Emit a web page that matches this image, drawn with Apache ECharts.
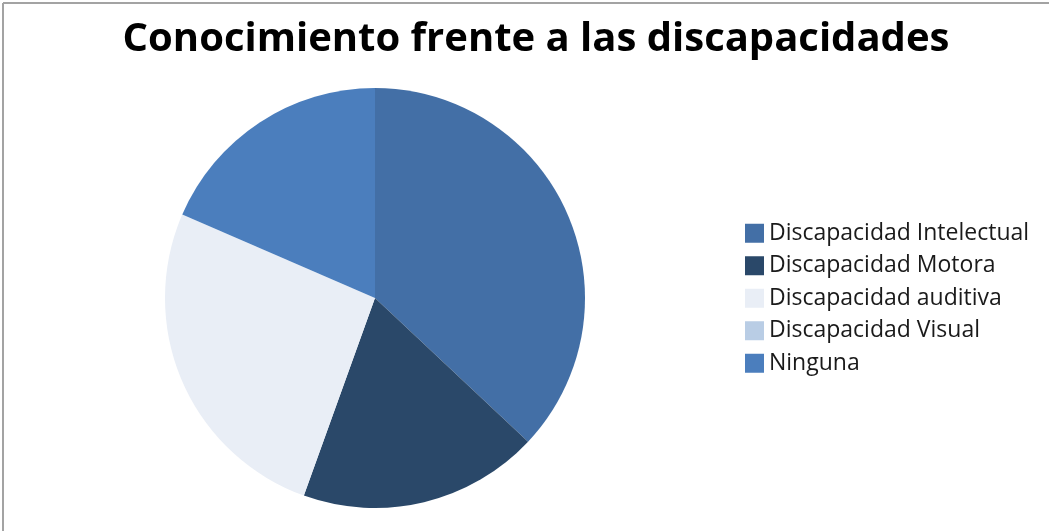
<!DOCTYPE html>
<html>
<head>
<meta charset="utf-8">
<script src="https://cdn.jsdelivr.net/npm/echarts@6/dist/echarts.min.js"></script>
<style>
  html, body { margin: 0; padding: 0; background: #ffffff; }
  #chart { width: 1049px; height: 531px; }
</style>
</head>
<body>
<div id="chart"></div>
<script>
// Share of respondents by type of disability they know about (%)
const categories = [
  'Discapacidad Intelectual',
  'Discapacidad Motora',
  'Discapacidad auditiva',
  'Discapacidad Visual',
  'Ninguna'
];
const shares = [37, 18.5, 26, 0, 18.5];
const sliceColors = ['#436fa6', '#2a4869', '#e9eef6', '#b9cde5', '#4b7ebd'];
const titleText = 'Conocimiento frente a las discapacidades';

const chart = echarts.init(document.getElementById('chart'), null, { renderer: 'canvas' });

chart.setOption({
  backgroundColor: '#ffffff',
  animation: false,
  color: sliceColors,
  title: {
    text: titleText,
    left: 531,
    textAlign: 'center',
    top: 15,
    textStyle: {
      fontFamily: 'Open Sans',
      fontWeight: 'bold',
      fontSize: 40,
      color: '#000000'
    }
  },
  legend: {
    orient: 'vertical',
    left: 740,
    top: 212,
    icon: 'rect',
    itemWidth: 19,
    itemHeight: 19,
    itemGap: 0,
    selectedMode: false,
    data: categories,
    textStyle: {
      fontFamily: 'Open Sans',
      fontSize: 23,
      lineHeight: 32.5,
      color: '#1a1a1a'
    }
  },
  graphic: [
    { type: 'line', shape: { x1: 3, y1: 3, x2: 1049, y2: 3 }, style: { stroke: '#a3a3a3', lineWidth: 2 } },
    { type: 'line', shape: { x1: 3, y1: 3, x2: 3, y2: 531 }, style: { stroke: '#a3a3a3', lineWidth: 2 } }
  ],
  series: [{
    type: 'pie',
    center: [375, 298],
    radius: 210,
    startAngle: 90,
    clockwise: true,
    label: { show: false },
    labelLine: { show: false },
    itemStyle: { borderWidth: 0 },
    emphasis: { disabled: true },
    data: categories.map((name, i) => ({ name, value: shares[i] }))
  }]
});
</script>
</body>
</html>
